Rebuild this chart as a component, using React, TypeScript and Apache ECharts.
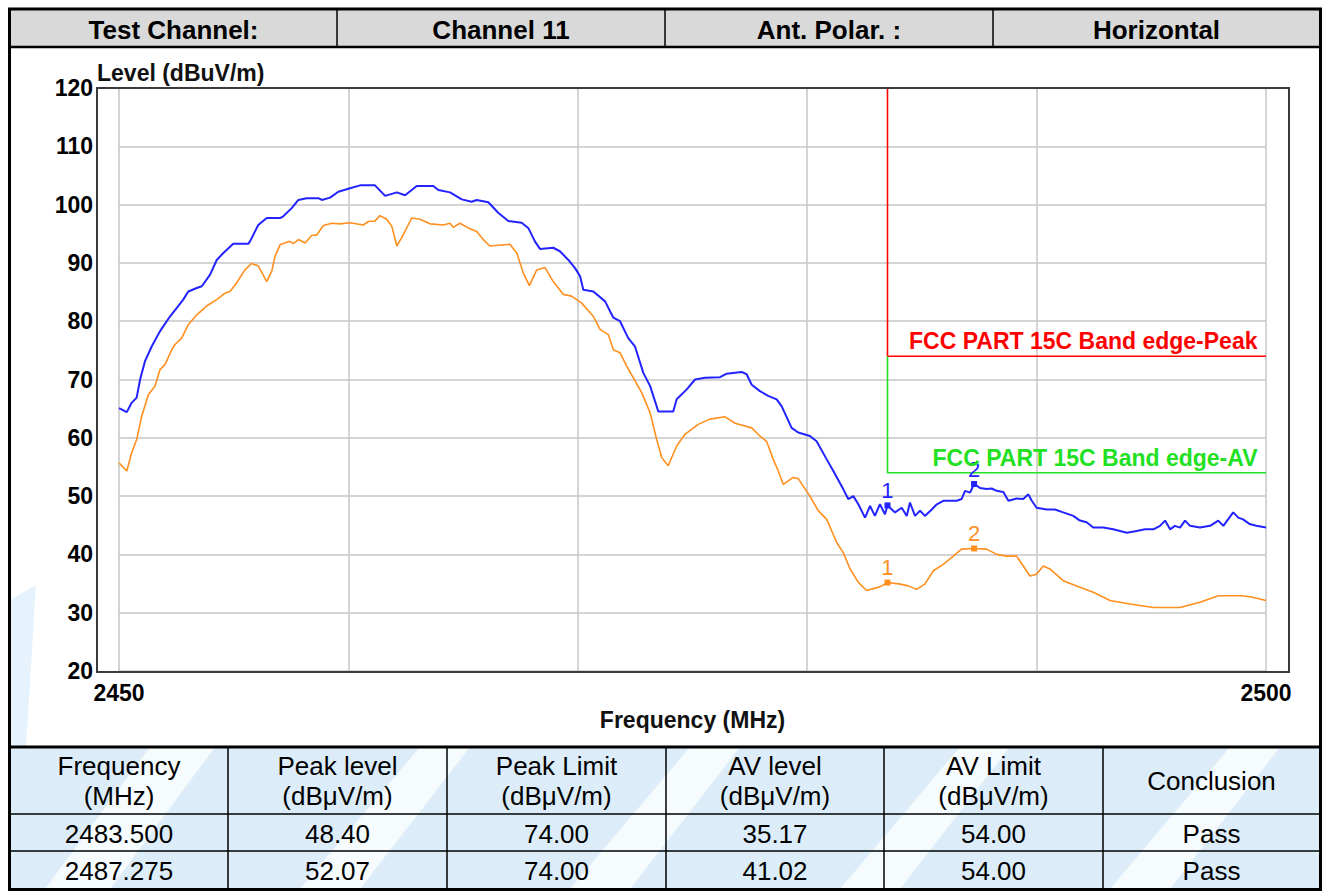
import React, { useEffect, useRef } from "react";
import * as echarts from "echarts";

// ---------------- data ----------------
const peakTrace: [number, number][] = [
  [2450.0, 65.1], [2450.34, 64.4], [2450.55, 66.0], [2450.77, 66.9], [2450.92, 70.0], [2451.13, 73.1],
  [2451.43, 75.7], [2451.79, 78.3], [2452.22, 80.8], [2452.52, 82.3], [2452.8, 83.7], [2453.02, 85.1],
  [2453.39, 85.7], [2453.61, 86.0], [2453.97, 88.0], [2454.26, 90.5], [2454.55, 91.7], [2454.98, 93.3],
  [2455.64, 93.3], [2455.71, 93.7], [2456.07, 96.5], [2456.44, 97.7], [2457.02, 97.7], [2457.16, 98.0],
  [2457.53, 99.4], [2457.82, 100.8], [2458.18, 101.1], [2458.69, 101.1], [2458.84, 100.8], [2459.2, 101.2],
  [2459.56, 102.2], [2460.07, 102.8], [2460.51, 103.3], [2461.16, 103.3], [2461.6, 101.5], [2462.11, 102.1],
  [2462.47, 101.6], [2462.98, 103.2], [2463.7, 103.2], [2463.92, 102.5], [2464.43, 102.1], [2464.94, 100.9],
  [2465.37, 100.5], [2465.59, 100.8], [2466.1, 100.4], [2466.53, 98.6], [2466.97, 97.2], [2467.55, 96.9],
  [2467.84, 96.0], [2468.13, 93.7], [2468.35, 92.4], [2468.93, 92.6], [2469.22, 92.0], [2469.59, 90.5],
  [2469.88, 89.1], [2470.1, 87.7], [2470.24, 85.4], [2470.68, 85.1], [2471.19, 83.4], [2471.55, 80.6],
  [2471.84, 80.0], [2472.2, 77.1], [2472.49, 75.7], [2472.86, 71.1], [2473.15, 68.9], [2473.51, 64.5],
  [2474.16, 64.5], [2474.31, 66.6], [2474.75, 68.3], [2475.11, 70.0], [2475.55, 70.3], [2476.2, 70.4],
  [2476.49, 71.0], [2477.14, 71.3], [2477.36, 70.9], [2477.58, 69.1], [2477.94, 68.0], [2478.3, 67.2],
  [2478.67, 66.6], [2478.89, 65.4], [2479.32, 61.7], [2479.61, 60.9], [2480.12, 60.3], [2480.41, 59.4],
  [2480.85, 56.3], [2481.14, 54.3], [2481.57, 51.2], [2481.79, 49.5], [2482.01, 50.0], [2482.23, 48.6],
  [2482.52, 46.3], [2482.74, 48.3], [2482.95, 46.6], [2483.17, 48.6], [2483.39, 46.9], [2483.5, 48.4],
  [2483.83, 47.2], [2484.12, 48.0], [2484.34, 46.6], [2484.48, 48.9], [2484.7, 46.6], [2484.92, 47.5],
  [2485.13, 46.6], [2485.43, 47.7], [2485.65, 48.6], [2485.93, 49.2], [2486.23, 49.2], [2486.52, 49.2],
  [2486.73, 49.5], [2486.88, 50.9], [2487.1, 50.6], [2487.275, 52.07], [2487.53, 51.4], [2487.82, 51.2],
  [2488.04, 51.3], [2488.26, 50.9], [2488.55, 50.7], [2488.77, 49.2], [2489.13, 49.6], [2489.42, 49.5],
  [2489.64, 50.3], [2489.79, 49.2], [2490.0, 48.0], [2490.44, 47.7], [2490.8, 47.7], [2491.16, 47.2],
  [2491.6, 46.6], [2491.89, 45.8], [2492.18, 45.5], [2492.47, 44.6], [2492.91, 44.6], [2493.34, 44.3],
  [2493.93, 43.7], [2494.36, 44.0], [2494.73, 44.3], [2495.09, 44.3], [2495.38, 44.9], [2495.6, 45.8],
  [2495.82, 44.3], [2496.03, 44.9], [2496.25, 44.6], [2496.47, 45.8], [2496.69, 44.9], [2497.12, 44.6],
  [2497.56, 44.9], [2497.92, 45.8], [2498.14, 44.9], [2498.57, 47.2], [2498.79, 46.3], [2499.0, 46.0],
  [2499.29, 45.2], [2499.58, 44.9], [2500.0, 44.6],
];

const avTrace: [number, number][] = [
  [2450.0, 55.7], [2450.34, 54.3], [2450.55, 57.4], [2450.77, 59.7], [2450.99, 63.7], [2451.28, 67.4],
  [2451.57, 68.9], [2451.79, 71.7], [2452.01, 72.6], [2452.3, 75.1], [2452.44, 76.0], [2452.73, 77.1],
  [2453.02, 79.4], [2453.39, 81.1], [2453.82, 82.6], [2454.26, 83.7], [2454.62, 84.8], [2454.84, 85.1],
  [2455.13, 86.6], [2455.49, 88.8], [2455.78, 89.9], [2456.07, 89.5], [2456.44, 86.8], [2456.66, 88.6],
  [2456.8, 91.1], [2457.02, 93.1], [2457.45, 93.7], [2457.6, 93.3], [2457.82, 94.0], [2458.11, 93.4],
  [2458.4, 94.7], [2458.62, 94.8], [2458.91, 96.4], [2459.27, 96.8], [2459.63, 96.7], [2460.07, 96.9],
  [2460.65, 96.5], [2460.87, 97.1], [2461.16, 97.2], [2461.38, 98.1], [2461.67, 97.5], [2461.89, 96.3],
  [2462.11, 92.9], [2462.39, 94.8], [2462.76, 97.7], [2463.12, 97.5], [2463.56, 96.7], [2464.14, 96.5],
  [2464.43, 96.8], [2464.57, 96.1], [2464.86, 96.8], [2465.23, 96.0], [2465.59, 95.4], [2465.88, 94.0],
  [2466.17, 92.9], [2467.04, 93.2], [2467.34, 91.7], [2467.62, 88.3], [2467.89, 86.1], [2468.21, 88.8],
  [2468.57, 89.2], [2468.93, 86.8], [2469.37, 84.6], [2469.73, 84.3], [2470.17, 83.1], [2470.53, 81.5],
  [2470.68, 80.8], [2470.97, 78.6], [2471.33, 77.7], [2471.55, 75.1], [2471.84, 74.6], [2472.13, 72.3],
  [2472.42, 70.3], [2472.79, 67.7], [2473.15, 64.3], [2473.44, 59.7], [2473.66, 56.6], [2473.94, 55.2],
  [2474.31, 58.6], [2474.67, 60.6], [2475.25, 62.3], [2475.76, 63.2], [2476.42, 63.6], [2476.85, 62.5],
  [2477.58, 61.7], [2477.94, 60.3], [2478.23, 59.4], [2478.52, 56.3], [2478.74, 54.3], [2478.96, 52.0],
  [2479.39, 53.2], [2479.61, 53.0], [2480.12, 50.0], [2480.48, 47.5], [2480.85, 46.0], [2481.29, 42.0],
  [2481.57, 40.3], [2481.87, 37.5], [2482.23, 35.2], [2482.59, 33.8], [2483.03, 34.3], [2483.25, 34.6],
  [2483.5, 35.17], [2484.05, 34.9], [2484.41, 34.6], [2484.77, 34.0], [2485.13, 34.9], [2485.5, 37.2],
  [2485.93, 38.3], [2486.37, 39.7], [2486.73, 40.9], [2487.275, 41.02], [2487.82, 40.9], [2488.26, 40.0],
  [2488.7, 39.7], [2489.13, 39.7], [2489.42, 38.0], [2489.71, 36.3], [2490.0, 36.6], [2490.29, 38.0],
  [2490.58, 37.5], [2491.16, 35.5], [2491.75, 34.6], [2492.47, 33.5], [2493.2, 32.1], [2494.07, 31.5],
  [2495.09, 30.9], [2496.25, 30.9], [2497.12, 31.8], [2497.92, 32.9], [2498.93, 32.9], [2499.37, 32.7],
  [2500.0, 32.1],
];

const markerLabels = ["1", "2"];
const markerFreq = [2483.5, 2487.275];
const markerPeak = [48.4, 52.07];
const markerAv = [35.17, 41.02];

const bandEdge = 2483.5;
const peakLimit = 74;
const avLimit = 54;
const xMin = 2450;
const xMax = 2500;
const yMin = 20;
const yMax = 120;
const xLabelTicks = [2450, 2500];

const peakLimitName = "FCC PART 15C Band edge-Peak";
const avLimitName = "FCC PART 15C Band edge-AV";

const headerCells = ["Test Channel:", "Channel 11", "Ant. Polar. :", "Horizontal"];
const tableHead = [
  "Frequency\n(MHz)",
  "Peak level\n(dBμV/m)",
  "Peak Limit\n(dBμV/m)",
  "AV level\n(dBμV/m)",
  "AV Limit\n(dBμV/m)",
  "Conclusion",
];
const tableRows = [
  ["2483.500", "48.40", "74.00", "35.17", "54.00", "Pass"],
  ["2487.275", "52.07", "74.00", "41.02", "54.00", "Pass"],
];

// ---------------- layout ----------------
const W = 1330;
const H = 893;
const FONT = '"Liberation Sans", Arial, Helvetica, sans-serif';
const BLUE = "#2323ff";
const ORANGE = "#ff8f1f";
const RED = "#ff0000";
const GREEN = "#22e022";

const plotL = 119;
const plotR = 1266;
const plotT = 88;
const plotB = 671;

const headerTop = 10;
const headerBot = 47;
const headerCols = [10, 337, 665, 993, 1320];
const tableTop = 747;
const tableRowY = [747, 814, 851, 889];
const tableCols = [10, 228, 447, 666, 884, 1103, 1320];

function buildGraphics(): any[] {
  const g: any[] = [];
  // table background (light blue watermark)
  g.push({
    type: "rect",
    shape: { x: 10, y: tableTop, width: 1310, height: 889 - tableTop },
    style: { fill: "#dcedf9" },
    z: 0,
  });
  // white diagonal swooshes in watermark
  const bands = [
    [[150, 747], [215, 747], [110, 889], [45, 889]],
    [[420, 747], [470, 747], [360, 889], [300, 889]],
    [[690, 747], [740, 747], [630, 889], [570, 889]],
    [[960, 747], [1010, 747], [900, 889], [840, 889]],
    [[1230, 747], [1280, 747], [1170, 889], [1110, 889]],
  ];
  bands.forEach((b) =>
    g.push({ type: "polygon", shape: { points: b }, style: { fill: "#ffffff", opacity: 0.75 }, z: 0 })
  );
  // left edge watermark in chart zone
  g.push({
    type: "polygon",
    shape: { points: [[10, 600], [36, 585], [26, 747], [10, 747]] },
    style: { fill: "#e6f3fc" },
    z: 0,
  });
  // header background
  g.push({
    type: "rect",
    shape: { x: 10, y: headerTop, width: 1310, height: headerBot - headerTop },
    style: { fill: "#d9d9d9" },
    z: 1,
  });
  headerCells.forEach((t, i) => {
    g.push({
      type: "text",
      x: (headerCols[i] + headerCols[i + 1]) / 2,
      y: (headerTop + headerBot) / 2 + 1,
      style: {
        text: t,
        fontFamily: FONT,
        fontWeight: "bold",
        fontSize: 26,
        fill: "#000",
        align: "center",
        verticalAlign: "middle",
      },
      z: 5,
    });
  });
  for (let i = 1; i < headerCols.length - 1; i++) {
    g.push({
      type: "line",
      shape: { x1: headerCols[i], y1: headerTop, x2: headerCols[i], y2: headerBot },
      style: { stroke: "#000", lineWidth: 1.5 },
      z: 5,
    });
  }
  g.push({
    type: "line",
    shape: { x1: 10, y1: headerBot, x2: 1320, y2: headerBot },
    style: { stroke: "#000", lineWidth: 2.5 },
    z: 5,
  });
  // table
  g.push({
    type: "line",
    shape: { x1: 10, y1: tableTop, x2: 1320, y2: tableTop },
    style: { stroke: "#000", lineWidth: 3 },
    z: 5,
  });
  for (let r = 1; r < tableRowY.length - 1; r++) {
    g.push({
      type: "line",
      shape: { x1: 10, y1: tableRowY[r], x2: 1320, y2: tableRowY[r] },
      style: { stroke: "#000", lineWidth: 1.5 },
      z: 5,
    });
  }
  for (let c = 1; c < tableCols.length - 1; c++) {
    g.push({
      type: "line",
      shape: { x1: tableCols[c], y1: tableTop, x2: tableCols[c], y2: 889 },
      style: { stroke: "#000", lineWidth: 1.5 },
      z: 5,
    });
  }
  const cellText = (t: string, cx: number, cy: number) => ({
    type: "text",
    x: cx,
    y: cy,
    style: {
      text: t,
      fontFamily: FONT,
      fontSize: 26,
      lineHeight: 30,
      fill: "#000",
      align: "center",
      verticalAlign: "middle",
    },
    z: 6,
  });
  tableHead.forEach((t, c) => {
    g.push(cellText(t, (tableCols[c] + tableCols[c + 1]) / 2, (tableRowY[0] + tableRowY[1]) / 2));
  });
  tableRows.forEach((row, r) => {
    row.forEach((t, c) => {
      g.push(cellText(t, (tableCols[c] + tableCols[c + 1]) / 2, (tableRowY[r + 1] + tableRowY[r + 2]) / 2 + 1));
    });
  });
  // outer border
  g.push({
    type: "rect",
    shape: { x: 9.5, y: 9, width: 1311, height: 880.5 },
    style: { fill: "none", stroke: "#000", lineWidth: 3 },
    z: 7,
  });
  // plot frame
  g.push({
    type: "rect",
    shape: { x: 97, y: plotT, width: 1289 - 97, height: 672 - plotT },
    style: { fill: "none", stroke: "#3a3a3a", lineWidth: 2 },
    z: 7,
  });
  // y-axis name
  g.push({
    type: "text",
    x: 97,
    y: 73,
    style: {
      text: "Level (dBuV/m)",
      fontFamily: FONT,
      fontWeight: "bold",
      fontSize: 23,
      fill: "#111",
      align: "left",
      verticalAlign: "middle",
    },
    z: 7,
  });
  return g;
}

function markPointsFor(values: number[], color: string) {
  return {
    symbol: "rect",
    symbolSize: 6,
    itemStyle: { color },
    label: {
      show: true,
      position: "top",
      distance: 1,
      color,
      fontFamily: FONT,
      fontSize: 22,
      formatter: (p: any) => p.name,
    },
    data: markerFreq.map((f, i) => ({ name: markerLabels[i], coord: [f, values[i]] })),
  };
}

function limitLabel(text: string, y: number, color: string) {
  return {
    symbol: "rect",
    symbolSize: 1,
    itemStyle: { color: "rgba(0,0,0,0)" },
    label: {
      show: true,
      position: "left",
      distance: 8,
      offset: [0, -15],
      color,
      fontFamily: FONT,
      fontWeight: "bold",
      fontSize: 23,
      formatter: text,
    },
    data: [{ coord: [xMax, y] }],
  };
}

export default function App() {
  const ref = useRef<HTMLDivElement>(null);
  useEffect(() => {
    if (!ref.current) return;
    const chart = echarts.init(ref.current, undefined, { renderer: "svg" });
    chart.setOption({
      animation: false,
      backgroundColor: "#ffffff",
      grid: {
        left: plotL,
        top: plotT,
        width: plotR - plotL,
        height: plotB - plotT,
        containLabel: false,
      },
      xAxis: {
        type: "value",
        min: xMin,
        max: xMax,
        interval: 10,
        axisLine: { show: false },
        axisTick: { show: false },
        splitLine: { show: true, lineStyle: { color: "#c6c6c6", width: 1.5 } },
        axisLabel: {
          margin: 10,
          color: "#000",
          fontFamily: FONT,
          fontWeight: "bold",
          fontSize: 23,
          formatter: (v: number) => (xLabelTicks.includes(v) ? String(v) : ""),
        },
        name: "Frequency (MHz)",
        nameLocation: "middle",
        nameGap: 35,
        nameTextStyle: {
          color: "#111",
          fontFamily: FONT,
          fontWeight: "bold",
          fontSize: 23,
          verticalAlign: "top",
        },
      },
      yAxis: {
        type: "value",
        min: yMin,
        max: yMax,
        interval: 10,
        axisLine: { show: false },
        axisTick: { show: false },
        splitLine: { show: true, lineStyle: { color: "#c6c6c6", width: 1.5 } },
        axisLabel: {
          margin: 26,
          color: "#000",
          fontFamily: FONT,
          fontWeight: "bold",
          fontSize: 23,
        },
      },
      graphic: buildGraphics(),
      series: [
        {
          type: "line",
          name: "AV",
          data: avTrace,
          showSymbol: false,
          lineStyle: { color: ORANGE, width: 1.6 },
          z: 3,
          markPoint: markPointsFor(markerAv, ORANGE),
        },
        {
          type: "line",
          name: "Peak",
          data: peakTrace,
          showSymbol: false,
          lineStyle: { color: BLUE, width: 2 },
          z: 4,
          markPoint: markPointsFor(markerPeak, BLUE),
        },
        {
          type: "line",
          name: "Peak limit",
          data: [
            [bandEdge, yMax],
            [bandEdge, peakLimit],
            [xMax, peakLimit],
          ],
          showSymbol: false,
          lineStyle: { color: RED, width: 1.6 },
          z: 2,
          markPoint: limitLabel(peakLimitName, peakLimit, RED),
        },
        {
          type: "line",
          name: "AV limit",
          data: [
            [bandEdge, peakLimit],
            [bandEdge, avLimit],
            [xMax, avLimit],
          ],
          showSymbol: false,
          lineStyle: { color: GREEN, width: 1.6 },
          z: 2,
          markPoint: limitLabel(avLimitName, avLimit, GREEN),
        },
      ],
    });
    return () => chart.dispose();
  }, []);
  return (
    <div
      ref={ref}
      style={{ position: "absolute", left: 0, top: 0, width: W, height: H }}
    />
  );
}
